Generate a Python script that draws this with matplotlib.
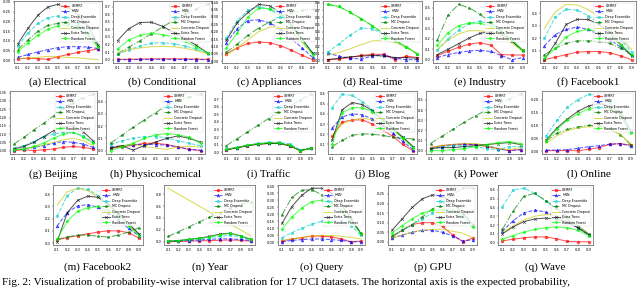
import matplotlib
matplotlib.use("Agg")
import matplotlib.pyplot as plt

x = [0.1, 0.2, 0.3, 0.4, 0.5, 0.6, 0.7, 0.8, 0.9]
methods = ["USMRT", "HNN", "Deep Ensemble", "MC Dropout", "Concrete Dropout", "Extra Trees", "Random Forest"]

# each dataset: rows in order of methods
electrical = [
    [0.008, 0.010, 0.008, 0.005, 0.018, 0.030, 0.040, 0.050, 0.058],
    [0.015, 0.030, 0.043, 0.055, 0.065, 0.070, 0.070, 0.068, 0.060],
    [0.075, 0.140, 0.190, 0.220, 0.228, 0.215, 0.190, 0.140, 0.070],
    [0.055, 0.105, 0.150, 0.180, 0.190, 0.190, 0.175, 0.140, 0.075],
    [0.010, 0.012, 0.015, 0.020, 0.018, 0.015, 0.012, 0.008, 0.003],
    [0.085, 0.165, 0.233, 0.275, 0.288, 0.272, 0.235, 0.175, 0.080],
    [0.045, 0.090, 0.130, 0.160, 0.178, 0.180, 0.165, 0.130, 0.070],
]
conditional = [
    [0.005, 0.005, 0.008, 0.010, 0.012, 0.012, 0.010, 0.008, 0.005],
    [0.000, 0.002, 0.003, 0.004, 0.005, 0.004, 0.003, 0.002, 0.001],
    [0.070, 0.130, 0.180, 0.215, 0.225, 0.210, 0.180, 0.140, 0.080],
    [0.080, 0.165, 0.250, 0.340, 0.430, 0.520, 0.600, 0.670, 0.730],
    [0.090, 0.130, 0.155, 0.170, 0.175, 0.170, 0.150, 0.120, 0.080],
    [0.250, 0.410, 0.490, 0.495, 0.440, 0.360, 0.280, 0.190, 0.090],
    [0.140, 0.260, 0.320, 0.350, 0.330, 0.300, 0.240, 0.170, 0.090],
]
appliances = [
    [0.050, 0.090, 0.120, 0.130, 0.125, 0.105, 0.075, 0.040, 0.010],
    [0.125, 0.220, 0.275, 0.280, 0.260, 0.220, 0.155, 0.090, 0.025],
    [0.155, 0.275, 0.345, 0.370, 0.350, 0.310, 0.235, 0.150, 0.055],
    [0.060, 0.115, 0.175, 0.225, 0.265, 0.300, 0.330, 0.345, 0.350],
    [0.040, 0.090, 0.145, 0.200, 0.230, 0.235, 0.200, 0.130, 0.045],
    [0.140, 0.260, 0.330, 0.385, 0.375, 0.330, 0.250, 0.150, 0.055],
    [0.090, 0.190, 0.300, 0.360, 0.355, 0.320, 0.240, 0.140, 0.045],
]
realtime = [
    [0.010, 0.020, 0.040, 0.070, 0.085, 0.085, 0.010, 0.060, 0.040],
    [0.100, 0.060, 0.030, 0.020, 0.060, 0.080, 0.030, 0.010, 0.010],
    [0.110, 0.230, 0.350, 0.450, 0.440, 0.360, 0.270, 0.180, 0.090],
    [0.780, 0.750, 0.670, 0.580, 0.480, 0.370, 0.280, 0.190, 0.090],
    [0.070, 0.110, 0.160, 0.220, 0.270, 0.280, 0.250, 0.180, 0.090],
    [0.010, 0.030, 0.050, 0.060, 0.070, 0.060, 0.040, 0.040, 0.030],
    [0.780, 0.750, 0.670, 0.580, 0.480, 0.370, 0.280, 0.190, 0.090],
]
industry = [
    [0.040, 0.080, 0.120, 0.150, 0.165, 0.140, 0.050, 0.045, 0.045],
    [0.020, 0.050, 0.070, 0.085, 0.090, 0.080, 0.040, 0.000, 0.020],
    [0.090, 0.200, 0.285, 0.350, 0.370, 0.350, 0.280, 0.190, 0.090],
    [0.190, 0.430, 0.535, 0.500, 0.440, 0.360, 0.280, 0.180, 0.080],
    [0.100, 0.190, 0.250, 0.280, 0.280, 0.260, 0.220, 0.160, 0.080],
    [0.050, 0.100, 0.155, 0.210, 0.255, 0.270, 0.250, 0.180, 0.090],
    [0.140, 0.260, 0.330, 0.355, 0.350, 0.330, 0.270, 0.190, 0.090],
]
facebook1 = [
    [0.030, 0.050, 0.070, 0.090, 0.095, 0.095, 0.085, 0.060, 0.030],
    [0.140, 0.230, 0.270, 0.290, 0.270, 0.230, 0.190, 0.130, 0.070],
    [0.200, 0.370, 0.430, 0.425, 0.380, 0.320, 0.260, 0.190, 0.090],
    [0.070, 0.120, 0.160, 0.180, 0.180, 0.175, 0.160, 0.120, 0.070],
    [0.280, 0.410, 0.470, 0.465, 0.430, 0.370, 0.300, 0.210, 0.110],
    [0.030, 0.160, 0.310, 0.350, 0.350, 0.310, 0.250, 0.150, 0.060],
    [0.040, 0.120, 0.210, 0.255, 0.270, 0.250, 0.210, 0.150, 0.070],
]
beijing = [
    [0.000, 0.005, 0.000, 0.005, 0.010, 0.020, 0.025, 0.020, 0.010],
    [0.005, 0.010, 0.020, 0.030, 0.045, 0.055, 0.050, 0.040, 0.020],
    [0.015, 0.030, 0.055, 0.085, 0.100, 0.110, 0.110, 0.090, 0.050],
    [0.040, 0.080, 0.125, 0.165, 0.210, 0.255, 0.290, 0.320, 0.340],
    [0.005, 0.010, 0.020, 0.035, 0.050, 0.065, 0.075, 0.060, 0.030],
    [0.010, 0.025, 0.050, 0.085, 0.120, 0.140, 0.150, 0.115, 0.060],
    [0.005, 0.010, 0.025, 0.045, 0.075, 0.100, 0.110, 0.085, 0.045],
]
physicochemical = [
    [0.020, 0.030, 0.045, 0.060, 0.060, 0.050, 0.030, 0.010, 0.000],
    [0.030, 0.040, 0.050, 0.050, 0.050, 0.045, 0.030, 0.010, 0.005],
    [0.050, 0.080, 0.100, 0.115, 0.115, 0.105, 0.080, 0.060, 0.040],
    [0.060, 0.125, 0.190, 0.250, 0.310, 0.370, 0.410, 0.440, 0.460],
    [0.020, 0.040, 0.050, 0.035, 0.020, 0.010, 0.030, 0.035, 0.030],
    [0.020, 0.040, 0.005, 0.040, 0.070, 0.100, 0.120, 0.100, 0.070],
    [0.000, 0.030, 0.060, 0.100, 0.130, 0.140, 0.130, 0.110, 0.060],
]
traffic = [
    [0.030, 0.060, 0.085, 0.105, 0.115, 0.115, 0.085, 0.020, 0.050],
    [0.035, 0.060, 0.090, 0.110, 0.120, 0.120, 0.095, 0.025, 0.050],
    [0.040, 0.065, 0.095, 0.115, 0.130, 0.130, 0.110, 0.030, 0.055],
    [0.085, 0.175, 0.265, 0.355, 0.445, 0.530, 0.610, 0.690, 0.765],
    [0.035, 0.060, 0.090, 0.110, 0.120, 0.115, 0.090, 0.020, 0.045],
    [0.030, 0.055, 0.085, 0.105, 0.115, 0.115, 0.085, 0.020, 0.050],
    [0.035, 0.060, 0.090, 0.110, 0.125, 0.120, 0.090, 0.020, 0.050],
]
blog = [
    [0.180, 0.320, 0.340, 0.340, 0.300, 0.240, 0.180, 0.100, 0.040],
    [0.260, 0.370, 0.400, 0.390, 0.350, 0.290, 0.210, 0.130, 0.050],
    [0.460, 0.590, 0.580, 0.520, 0.440, 0.350, 0.260, 0.170, 0.080],
    [0.080, 0.140, 0.190, 0.205, 0.200, 0.190, 0.170, 0.160, 0.155],
    [0.180, 0.300, 0.340, 0.360, 0.340, 0.300, 0.240, 0.170, 0.080],
    [0.140, 0.440, 0.510, 0.490, 0.430, 0.340, 0.260, 0.170, 0.080],
    [0.100, 0.410, 0.460, 0.460, 0.420, 0.330, 0.250, 0.160, 0.070],
]
power = [
    [0.030, 0.050, 0.060, 0.065, 0.060, 0.040, 0.020, 0.000, 0.010],
    [0.020, 0.040, 0.060, 0.065, 0.060, 0.050, 0.020, 0.000, 0.010],
    [0.020, 0.040, 0.050, 0.050, 0.040, 0.020, 0.010, 0.040, 0.040],
    [0.070, 0.140, 0.210, 0.280, 0.345, 0.400, 0.455, 0.510, 0.555],
    [0.030, 0.050, 0.060, 0.070, 0.070, 0.050, 0.020, 0.010, 0.030],
    [0.020, 0.030, 0.030, 0.040, 0.050, 0.060, 0.070, 0.080, 0.060],
    [0.000, 0.000, 0.010, 0.020, 0.040, 0.060, 0.080, 0.090, 0.070],
]
online = [
    [0.003, 0.003, 0.003, 0.003, 0.008, 0.015, 0.027, 0.030, 0.025],
    [0.005, 0.005, 0.007, 0.012, 0.018, 0.022, 0.028, 0.030, 0.020],
    [0.060, 0.120, 0.170, 0.200, 0.220, 0.215, 0.190, 0.150, 0.080],
    [0.040, 0.070, 0.085, 0.095, 0.100, 0.100, 0.090, 0.065, 0.025],
    [0.030, 0.060, 0.080, 0.090, 0.095, 0.095, 0.085, 0.065, 0.030],
    [0.045, 0.090, 0.125, 0.155, 0.175, 0.185, 0.175, 0.150, 0.080],
    [0.040, 0.085, 0.120, 0.145, 0.165, 0.170, 0.165, 0.140, 0.070],
]
facebook2 = [
    [0.025, 0.045, 0.060, 0.075, 0.090, 0.100, 0.100, 0.085, 0.040],
    [0.140, 0.250, 0.305, 0.315, 0.295, 0.250, 0.190, 0.120, 0.060],
    [0.220, 0.390, 0.450, 0.440, 0.390, 0.320, 0.240, 0.150, 0.070],
    [0.030, 0.050, 0.065, 0.065, 0.055, 0.050, 0.065, 0.090, 0.125],
    [0.310, 0.420, 0.450, 0.430, 0.380, 0.310, 0.230, 0.150, 0.070],
    [0.010, 0.250, 0.350, 0.385, 0.375, 0.320, 0.240, 0.160, 0.075],
    [0.030, 0.180, 0.260, 0.290, 0.300, 0.270, 0.210, 0.140, 0.060],
]
year = [
    [0.000, 0.005, 0.010, 0.015, 0.020, 0.025, 0.030, 0.025, 0.010],
    [0.005, 0.010, 0.020, 0.030, 0.040, 0.050, 0.050, 0.040, 0.020],
    [0.010, 0.020, 0.035, 0.050, 0.070, 0.090, 0.110, 0.080, 0.030],
    [0.090, 0.170, 0.250, 0.335, 0.410, 0.490, 0.570, 0.620, 0.670],
    [0.900, 0.800, 0.700, 0.600, 0.500, 0.400, 0.300, 0.200, 0.100],
    [0.010, 0.020, 0.040, 0.060, 0.090, 0.130, 0.145, 0.100, 0.040],
    [0.010, 0.020, 0.040, 0.060, 0.080, 0.120, 0.140, 0.100, 0.040],
]
query = [
    [0.010, 0.025, 0.035, 0.045, 0.045, 0.040, 0.025, 0.005, 0.010],
    [0.005, 0.015, 0.020, 0.025, 0.025, 0.020, 0.015, 0.005, 0.005],
    [0.035, 0.070, 0.100, 0.130, 0.150, 0.155, 0.150, 0.120, 0.050],
    [0.195, 0.320, 0.370, 0.375, 0.340, 0.290, 0.220, 0.150, 0.070],
    [0.015, 0.025, 0.035, 0.045, 0.050, 0.050, 0.045, 0.035, 0.025],
    [0.135, 0.255, 0.335, 0.385, 0.385, 0.350, 0.270, 0.170, 0.060],
    [0.095, 0.180, 0.245, 0.290, 0.300, 0.280, 0.230, 0.150, 0.060],
]
gpu = [
    [0.025, 0.060, 0.090, 0.100, 0.100, 0.080, 0.035, 0.000, 0.020],
    [0.020, 0.035, 0.050, 0.060, 0.060, 0.050, 0.030, 0.005, 0.010],
    [0.030, 0.060, 0.090, 0.120, 0.150, 0.165, 0.165, 0.140, 0.090],
    [0.030, 0.060, 0.090, 0.130, 0.170, 0.210, 0.245, 0.280, 0.280],
    [0.020, 0.035, 0.050, 0.060, 0.065, 0.065, 0.055, 0.045, 0.020],
    [0.060, 0.120, 0.180, 0.225, 0.245, 0.240, 0.200, 0.150, 0.090],
    [0.045, 0.085, 0.120, 0.150, 0.165, 0.170, 0.160, 0.130, 0.075],
]
wave = [
    [0.020, 0.040, 0.055, 0.065, 0.065, 0.045, 0.015, 0.010, 0.010],
    [0.130, 0.250, 0.340, 0.370, 0.350, 0.300, 0.240, 0.170, 0.090],
    [0.410, 0.600, 0.620, 0.560, 0.480, 0.390, 0.290, 0.190, 0.100],
    [0.150, 0.360, 0.530, 0.560, 0.480, 0.390, 0.290, 0.190, 0.100],
    [0.120, 0.190, 0.260, 0.300, 0.320, 0.310, 0.260, 0.190, 0.100],
    [0.100, 0.180, 0.240, 0.270, 0.280, 0.270, 0.230, 0.170, 0.090],
    [0.040, 0.080, 0.120, 0.150, 0.170, 0.180, 0.170, 0.140, 0.080],
]

panels = [
    ("(a) Electrical", electrical, [0, 0.05, 0.10, 0.15, 0.20, 0.25, 0.30], "{:.2f}"),
    ("(b) Conditional", conditional, [0, 0.1, 0.2, 0.3, 0.4, 0.5, 0.6, 0.7], "{:.1f}"),
    ("(c) Appliances", appliances, [0, 0.05, 0.10, 0.15, 0.20, 0.25, 0.30, 0.35, 0.40], "{:.2f}"),
    ("(d) Real-time", realtime, [0, 0.1, 0.2, 0.3, 0.4, 0.5, 0.6, 0.7, 0.8], "{:.1f}"),
    ("(e) Industry", industry, [0, 0.1, 0.2, 0.3, 0.4, 0.5], "{:.1f}"),
    ("(f) Facebook1", facebook1, [0.1, 0.2, 0.3, 0.4], "{:.1f}"),
    ("(g) Beijing", beijing, [0, 0.05, 0.10, 0.15, 0.20, 0.25, 0.30, 0.35], "{:.2f}"),
    ("(h) Physicochemical", physicochemical, [0, 0.1, 0.2, 0.3, 0.4], "{:.1f}"),
    ("(i) Traffic", traffic, [0, 0.1, 0.2, 0.3, 0.4, 0.5, 0.6, 0.7], "{:.1f}"),
    ("(j) Blog", blog, [0.1, 0.2, 0.3, 0.4, 0.5, 0.6], "{:.1f}"),
    ("(k) Power", power, [0, 0.1, 0.2, 0.3, 0.4, 0.5], "{:.1f}"),
    ("(l) Online", online, [0, 0.05, 0.10, 0.15, 0.20], "{:.2f}"),
    ("(m) Facebook2", facebook2, [0, 0.1, 0.2, 0.3, 0.4], "{:.1f}"),
    ("(n) Year", year, [0, 0.2, 0.4, 0.6, 0.8], "{:.1f}"),
    ("(o) Query", query, [0, 0.05, 0.10, 0.15, 0.20, 0.25, 0.30, 0.35, 0.40], "{:.2f}"),
    ("(p) GPU", gpu, [0, 0.05, 0.10, 0.15, 0.20, 0.25], "{:.2f}"),
    ("(q) Wave", wave, [0, 0.1, 0.2, 0.3, 0.4, 0.5, 0.6], "{:.1f}"),
]

styles = [
    dict(color="#ff0000", marker="o", ls="-"),
    dict(color="#0000ff", marker="^", ls="--"),
    dict(color="#00cccc", marker="s", ls="--"),
    dict(color="#007f00", marker="*", ls="-."),
    dict(color="#c8c800", marker=None, ls="-"),
    dict(color="#000000", marker="x", ls="-"),
    dict(color="#00ff00", marker="P", ls="-"),
]

W, H = 640, 287
# pixel boxes: left, right, top, bottom
boxes = [
    (14, 102, 1, 63), (113, 212, 1, 63), (222, 317, 1, 63),
    (323, 422, 1, 63), (433, 527, 1, 63), (540, 636, 1, 63),
    (10, 97, 91, 154), (106, 205, 91, 154), (222, 315, 91, 154),
    (328, 417, 91, 154), (426, 525, 91, 154), (542, 635, 91, 154),
    (53, 143, 185, 245), (164, 255, 185, 245), (278, 365, 185, 245),
    (388, 477, 185, 245), (498, 593, 185, 245),
]
cap_y = [82] * 6 + [174] * 6 + [267] * 5

fig = plt.figure(figsize=(W / 100, H / 100), dpi=100)
for (title, data, yt, fmt), (l, r, t, b), cy in zip(panels, boxes, cap_y):
    ax = fig.add_axes([l / W, 1 - b / H, (r - l) / W, (b - t) / H])
    for m, vals, st in zip(methods, data, styles):
        ax.plot(x, vals, label=m, color=st["color"], ls=st["ls"], marker=st["marker"],
                lw=0.75, ms=2.0, mew=0.45, alpha=0.65)
    ax.margins(x=0.05, y=0.06)
    ax.set_xticks(x)
    ax.set_xticklabels([f"{v:.1f}" for v in x])
    ax.set_yticks(yt)
    ax.set_yticklabels([fmt.format(v) for v in yt])
    ax.tick_params(labelsize=2.6, length=1, width=0.3, pad=1)
    for sp in ax.spines.values():
        sp.set_linewidth(0.4)
        sp.set_color("#333333")
    leg = ax.legend(loc="upper right", fontsize=2.3, frameon=True, labelspacing=0.45,
                    handlelength=2.6, borderpad=0.4, handletextpad=0.6, fancybox=False)
    leg.get_frame().set_linewidth(0.3)
    fig.text(((l + r) / 2) / W, 1 - cy / H, title, ha="center", va="center",
             family="Liberation Serif", fontsize=8)

fig.text(0.003, 1 - 277 / H,
         "Fig. 2: Visualization of probability-wise interval calibration for 17 UCI datasets. "
         "The horizontal axis is the expected probability,",
         ha="left", va="top", family="Liberation Serif", fontsize=8)

fig.savefig("out.png", dpi=100)
